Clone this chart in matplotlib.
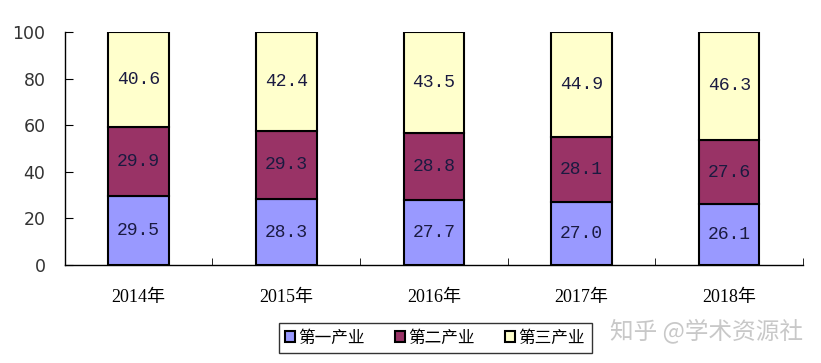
import numpy as np
import matplotlib.pyplot as plt
from matplotlib.ticker import FixedLocator

plt.rcParams['font.family'] = ['Noto Sans CJK SC', 'DejaVu Sans']

years = ['2014年', '2015年', '2016年', '2017年', '2018年']
primary = [29.5, 28.3, 27.7, 27.0, 26.1]
secondary = [29.9, 29.3, 28.8, 28.1, 27.6]
tertiary = [40.6, 42.4, 43.5, 44.9, 46.3]
names = ['第一产业', '第二产业', '第三产业']
colors = ['#9999FF', '#993366', '#FFFFCC']

fig = plt.figure(figsize=(8.21, 3.63), dpi=100)
ax = fig.add_axes([0.079, 0.270, 0.899, 0.642])

x = np.arange(len(years))
w = 0.41
bottom = np.zeros(len(years))
for vals, c, n in zip([primary, secondary, tertiary], colors, names):
    bars = ax.bar(x, vals, w, bottom=bottom, color=c, edgecolor='black',
                  linewidth=1.5, label=n)
    for b, v, y0 in zip(bars, vals, bottom):
        ax.text(b.get_x() + b.get_width() / 2, y0 + v / 2, f'{v:.1f}',
                ha='center', va='center', fontsize=13, color='#1a1a40',
                family=['Liberation Mono'])
    bottom += np.array(vals)

ax.set_xlim(-0.5, len(years) - 0.5)
ax.set_ylim(0, 100)
ax.set_yticks(range(0, 101, 20))
ax.set_xticks(x)
ax.set_xticklabels(years, fontsize=13, family=['Liberation Serif', 'Noto Sans CJK SC'])
ax.xaxis.set_minor_locator(FixedLocator(np.arange(-0.5, len(years), 1.0)))
ax.tick_params(axis='x', which='major', length=0, pad=17)
ax.tick_params(axis='x', which='minor', direction='in', length=5)
ax.tick_params(axis='y', direction='in', length=6, labelsize=12.5, pad=14)
for lab in ax.get_yticklabels():
    lab.set_family(['DejaVu Sans'])
    lab.set_color('#333333')
for s in ['top', 'right']:
    ax.spines[s].set_visible(False)
ax.spines['left'].set_linewidth(1.0)
ax.spines['bottom'].set_linewidth(1.0)

leg = fig.legend(loc='center', bbox_to_anchor=(0.53, 0.069), ncol=3,
                 fontsize=12, frameon=True, fancybox=False, edgecolor='black',
                 handlelength=0.6, handleheight=0.6, handletextpad=0.2,
                 columnspacing=1.8, borderpad=0.4)
leg.get_frame().set_linewidth(1.0)

fig.text(0.861, 0.09, '知乎 @学术资源社', fontsize=17, color='#c8c8c8',
         ha='center', va='center')

fig.savefig('out.png', dpi=100)
